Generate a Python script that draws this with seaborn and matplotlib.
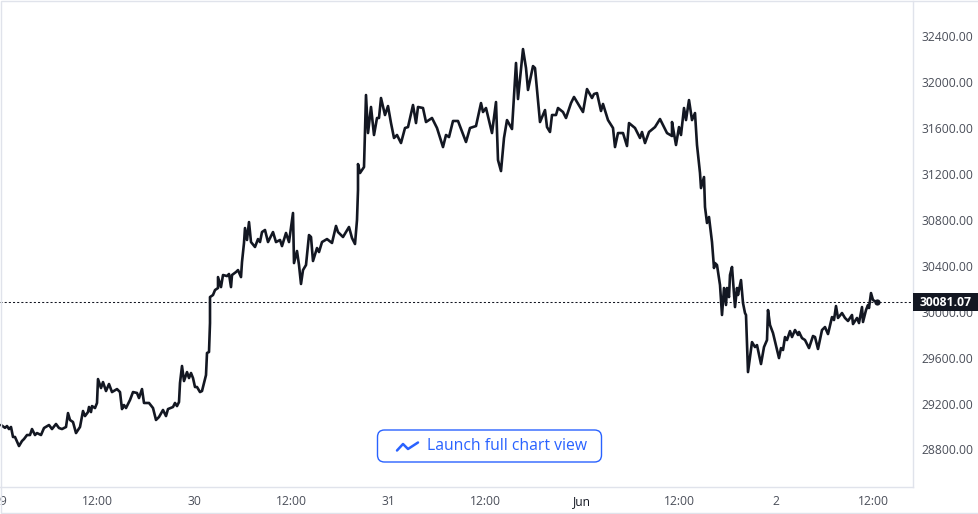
import matplotlib
matplotlib.use("Agg")
import matplotlib.pyplot as plt
from matplotlib.lines import Line2D
from matplotlib.patches import FancyBboxPatch, Rectangle
from matplotlib.transforms import Affine2D
import numpy as np
import pandas as pd
import seaborn as sns

# time since 29 May 00:00, in steps of 1/97 of twelve hours
time_steps = [
    1,5,7,9,11,13,15,19,22,24,
    27,30,32,35,37,41,44,49,52,56,
    59,62,66,68,70,73,76,80,83,85,
    88,89,91,92,95,97,98,101,103,106,
    109,112,117,120,122,124,126,130,133,137,
    139,142,144,149,153,156,159,163,166,168,
    173,175,177,179,180,182,184,187,189,191,
    193,195,197,200,202,206,207,209,210,210,
    213,215,218,218,221,223,227,229,231,232,
    236,238,241,242,244,245,247,249,251,255,
    258,260,262,265,268,273,276,280,282,286,
    289,293,294,297,299,301,303,306,309,311,
    313,317,319,322,327,332,336,338,343,346,
    349,352,355,357,358,358,360,364,366,368,
    371,374,377,379,381,385,388,391,394,397,
    401,405,408,413,416,418,423,426,432,437,
    443,446,449,453,458,466,470,476,481,483,
    486,492,496,498,501,504,507,512,516,518,
    523,526,528,533,535,540,545,547,550,552,
    556,558,563,566,571,574,577,583,587,592,
    594,597,601,603,608,613,615,618,623,627,
    629,635,640,642,645,649,655,660,667,672,
    672,676,679,681,684,686,689,692,695,697,
    700,701,704,705,707,709,712,714,715,717,
    720,722,724,726,727,729,730,732,735,737,
    738,741,743,745,746,748,750,752,755,757,
    761,764,767,768,770,773,779,781,783,785,
    787,790,792,795,798,799,802,805,809,813,
    815,818,822,825,828,832,834,836,838,842,
    845,848,852,853,857,859,862,863,866,868,
    869,871,873,877,
]
prices = [
    29013,28989,29004,28978,28996,28909,28909,28830,28874,28891,
    28926,28926,28978,28926,28943,28926,28987,29013,28978,29022,
    28987,28978,28996,29117,29057,29039,28943,28996,29135,29091,
    29126,29170,29126,29178,29161,29205,29413,29335,29387,29309,
    29370,29300,29326,29300,29152,29187,29161,29231,29300,29292,
    29248,29326,29205,29205,29161,29057,29083,29144,29091,29152,
    29170,29205,29178,29213,29379,29527,29396,29474,29422,29466,
    29422,29344,29344,29300,29309,29448,29640,29649,29901,30127,
    30145,30188,30206,30301,30214,30319,30310,30328,30214,30319,
    30345,30362,30301,30432,30598,30728,30624,30780,30606,30563,
    30632,30606,30693,30711,30606,30693,30606,30624,30571,30685,
    30606,30859,30423,30528,30406,30241,30362,30406,30667,30650,
    30441,30554,30519,30606,30632,30598,30746,30693,30650,30693,
    30737,30641,30589,30798,31059,31285,31207,31259,31886,31555,
    31782,31538,31686,31686,31860,31712,31790,31642,31512,31538,
    31468,31599,31607,31799,31642,31782,31773,31651,31686,31599,
    31433,31538,31520,31660,31660,31477,31599,31616,31816,31738,
    31773,31555,31825,31320,31224,31512,31668,31590,32165,31851,
    32286,32121,31930,32138,32121,31651,31755,31607,31564,31712,
    31712,31773,31738,31686,31816,31869,31825,31738,31938,31860,
    31895,31903,31747,31808,31668,31599,31433,31555,31555,31442,
    31642,31599,31512,31564,31468,31564,31607,31677,31555,31529,
    31651,31451,31607,31538,31773,31668,31842,31668,31729,31451,
    31207,31076,31172,30911,30772,30824,30606,30380,30423,30406,
    30232,29971,30206,30058,30206,30127,30319,30389,30040,30206,
    30145,30275,30075,29988,29971,29474,29605,29735,29692,29709,
    29544,29692,29753,30014,29884,29814,29596,29683,29666,29779,
    29753,29831,29779,29840,29797,29823,29770,29753,29683,29788,
    29779,29675,29840,29866,29805,29953,29927,30049,29945,29988,
    29945,29919,29971,29892,29945,29901,30040,29910,30014,30058,
    30032,30162,30101,30081.07,
]
x_tick_hours = [0, 12, 24, 36, 48, 60, 72, 84, 96, 108]
x_tick_labels = ["29", "12:00", "30", "12:00", "31", "12:00", "Jun", "12:00", "2", "12:00"]
y_ticks = [28800, 29200, 29600, 30000, 30400, 30800, 31200, 31600, 32000, 32400]
last_price = 30081.07
button_text = "Launch full chart view"

INK = "#131722"
GRID = "#e0e3eb"
MUTED = "#4a4e59"
BLUE = "#2962ff"

sns.set_theme(style="white")
plt.rcParams["font.family"] = ["Open Sans", "DejaVu Sans"]

W, H = 979, 514
fig = plt.figure(figsize=(W / 100, H / 100), dpi=100, facecolor="white")
ax = fig.add_axes([0, (H - 487) / H, 913 / W, 486 / H])
px = Affine2D().scale(1, -1).translate(0, H)  # top-down pixel layout for page furniture

df = pd.DataFrame({"hours": np.array(time_steps) * 12 / 97, "price": prices})
sns.lineplot(data=df, x="hours", y="price", sort=False, estimator=None, errorbar=None,
             color=INK, linewidth=1.9, ax=ax, solid_joinstyle="round")
ax.scatter(df["hours"].iloc[-1], last_price, s=20, color=INK, zorder=4, linewidths=0)
ax.axhline(last_price, color=INK, linewidth=0.75, dashes=(2, 2), zorder=3)

ax.set_xlim(0, 913 * 12 / 97)
ax.set_ylim(32713.3 - 8.706 * 487, 32713.3 - 8.706 * 1)
ax.set_xlabel("")
ax.set_ylabel("")
ax.set_xticks(x_tick_hours, x_tick_labels)
ax.set_yticks(y_ticks, [f"{v:.2f}" for v in y_ticks])
ax.yaxis.tick_right()
ax.tick_params(axis="both", length=0, labelsize=8.7, labelcolor=MUTED)
ax.tick_params(axis="x", pad=13)
ax.tick_params(axis="y", pad=6)
for label in ax.get_xticklabels():
    label.set_verticalalignment("baseline")
ax.get_xticklabels()[6].set_color(INK)
for name, spine in ax.spines.items():
    spine.set_visible(name in ("right", "bottom"))
    spine.set_color(GRID)
    spine.set_linewidth(1)

# outer frame of the widget
fig.add_artist(Rectangle((0.5, 0.5), W - 1, H - 2, transform=px, fill=False,
                         edgecolor=GRID, linewidth=1))

# last-price tag
fig.add_artist(Rectangle((913, 293), 66, 18, transform=px, facecolor=INK, edgecolor="none", zorder=5))
fig.text(946, 302.5, f"{last_price:.2f}", transform=px, color="white", fontsize=8.7,
         fontweight="bold", ha="center", va="center", zorder=6)

# call-to-action button
fig.add_artist(FancyBboxPatch((383, 435.5), 213, 21, boxstyle="round,pad=5.5,rounding_size=7",
                              transform=px, facecolor="white", edgecolor=BLUE, linewidth=1, zorder=5))
fig.add_artist(Line2D([397, 403, 408, 418], [450.5, 444, 449, 442.5], transform=px,
                      color=BLUE, linewidth=1.8, zorder=6))
fig.text(427, 446.5, button_text, transform=px, color=BLUE, fontsize=11.3,
         ha="left", va="center", zorder=6)

fig.savefig("out.png", dpi=100, facecolor="white")
